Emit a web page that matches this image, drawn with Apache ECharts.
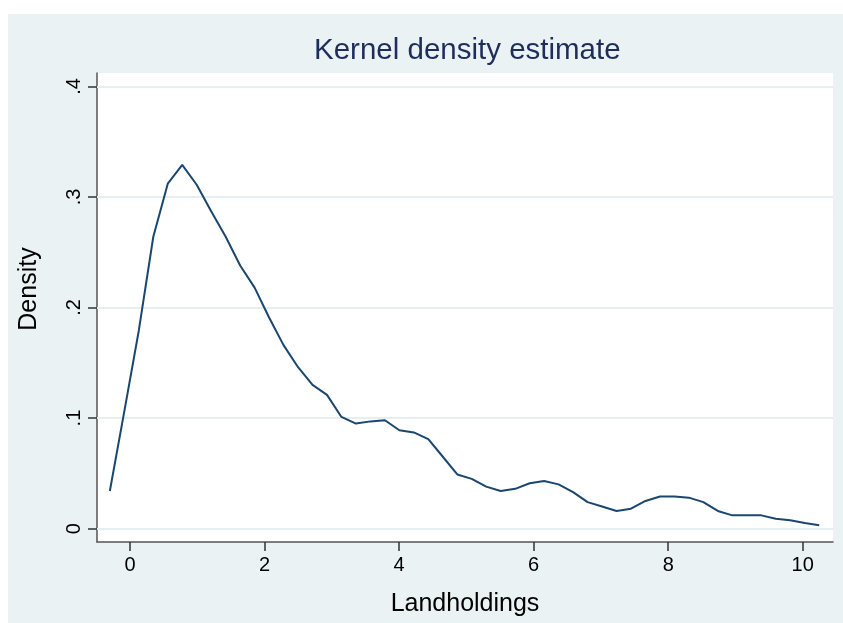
<!DOCTYPE html>
<html>
<head>
<meta charset="utf-8">
<script src="https://cdn.jsdelivr.net/npm/echarts@6/dist/echarts.min.js"></script>
<style>
  html, body { margin: 0; padding: 0; background: #fff; }
  #chart { width: 843px; height: 623px; }
</style>
</head>
<body>
<div id="chart"></div>
<script>
// kdensity grid points (50 points) and estimated density
var landX = [-0.300, -0.085, 0.130, 0.346, 0.561, 0.776, 0.991, 1.206, 1.422, 1.637,
             1.852, 2.067, 2.282, 2.498, 2.713, 2.928, 3.143, 3.358, 3.574, 3.789,
             4.004, 4.219, 4.434, 4.650, 4.865, 5.080, 5.295, 5.510, 5.726, 5.941,
             6.156, 6.371, 6.586, 6.802, 7.017, 7.232, 7.447, 7.662, 7.878, 8.093,
             8.308, 8.523, 8.738, 8.954, 9.169, 9.384, 9.599, 9.814, 10.030, 10.245];
var density = [0.034, 0.106, 0.179, 0.264, 0.312, 0.329, 0.311, 0.287, 0.264, 0.238,
               0.218, 0.191, 0.166, 0.146, 0.130, 0.121, 0.101, 0.095, 0.097, 0.098,
               0.089, 0.087, 0.081, 0.065, 0.049, 0.045, 0.038, 0.034, 0.036, 0.041,
               0.043, 0.040, 0.033, 0.024, 0.020, 0.016, 0.018, 0.025, 0.029, 0.029,
               0.028, 0.024, 0.016, 0.012, 0.012, 0.012, 0.009, 0.0075, 0.005, 0.003];
var xTicks = [0, 2, 4, 6, 8, 10];
var yTicks = [0, 0.1, 0.2, 0.3, 0.4];
var yTickLabels = ['0', '.1', '.2', '.3', '.4'];

var font = 'Liberation Sans, Arial, sans-serif';
var chart = echarts.init(document.getElementById('chart'));

var seriesData = [];
for (var i = 0; i < landX.length; i++) {
    seriesData.push([landX[i], density[i]]);
}

var option = {
    backgroundColor: '#fff',
    animation: false,
    graphic: [{
        type: 'rect',
        z: -10,
        shape: { x: 8, y: 14, width: 835, height: 609 },
        style: { fill: '#eaf2f3' }
    }, {
        type: 'text',
        x: 29.5, y: 289,
        rotation: Math.PI / 2,
        style: {
            text: 'Density',
            font: '25px ' + font,
            fill: '#000',
            align: 'center',
            verticalAlign: 'middle'
        }
    }],
    title: {
        text: 'Kernel density estimate',
        left: 314,
        top: 36,
        padding: 0,
        textStyle: { color: '#1e2d5c', fontSize: 29.5, fontWeight: 'normal', fontFamily: font }
    },
    grid: {
        left: 97, top: 73, right: 10, bottom: 81,
        show: true, backgroundColor: '#fff', borderWidth: 0
    },
    xAxis: {
        type: 'value',
        min: -0.491, max: 10.45,
        name: 'Landholdings',
        nameLocation: 'middle',
        nameGap: 50,
        nameTextStyle: { fontSize: 25, color: '#000', fontFamily: font },
        axisLine: { onZero: false, lineStyle: { color: '#555', width: 1.5 } },
        axisTick: { customValues: xTicks, length: 9, lineStyle: { color: '#333', width: 1.5 } },
        axisLabel: { customValues: xTicks, fontSize: 20, color: '#000', fontFamily: font, margin: 13 },
        splitLine: { show: false }
    },
    yAxis: {
        type: 'value',
        min: -0.0121, max: 0.4121,
        axisLine: { show: true, onZero: false, lineStyle: { color: '#555', width: 1.5 } },
        axisTick: { show: true, customValues: yTicks, length: 9, lineStyle: { color: '#333', width: 1.5 } },
        axisLabel: {
            customValues: yTicks, rotate: 90, fontSize: 20, color: '#000', fontFamily: font, margin: 13,
            formatter: function (v) {
                var k = yTicks.indexOf(Math.round(v * 10) / 10);
                return k >= 0 ? yTickLabels[k] : '';
            }
        },
        splitLine: { show: false }
    },
    series: [{
        type: 'line',
        data: seriesData,
        showSymbol: false,
        lineStyle: { color: '#1a476f', width: 2 },
        markLine: {
            silent: true,
            symbol: 'none',
            label: { show: false },
            lineStyle: { color: '#e6eef1', width: 2, type: 'solid' },
            z: 1,
            data: yTicks.map(function (v) { return { yAxis: v }; })
        }
    }]
};
chart.setOption(option);
</script>
</body>
</html>
